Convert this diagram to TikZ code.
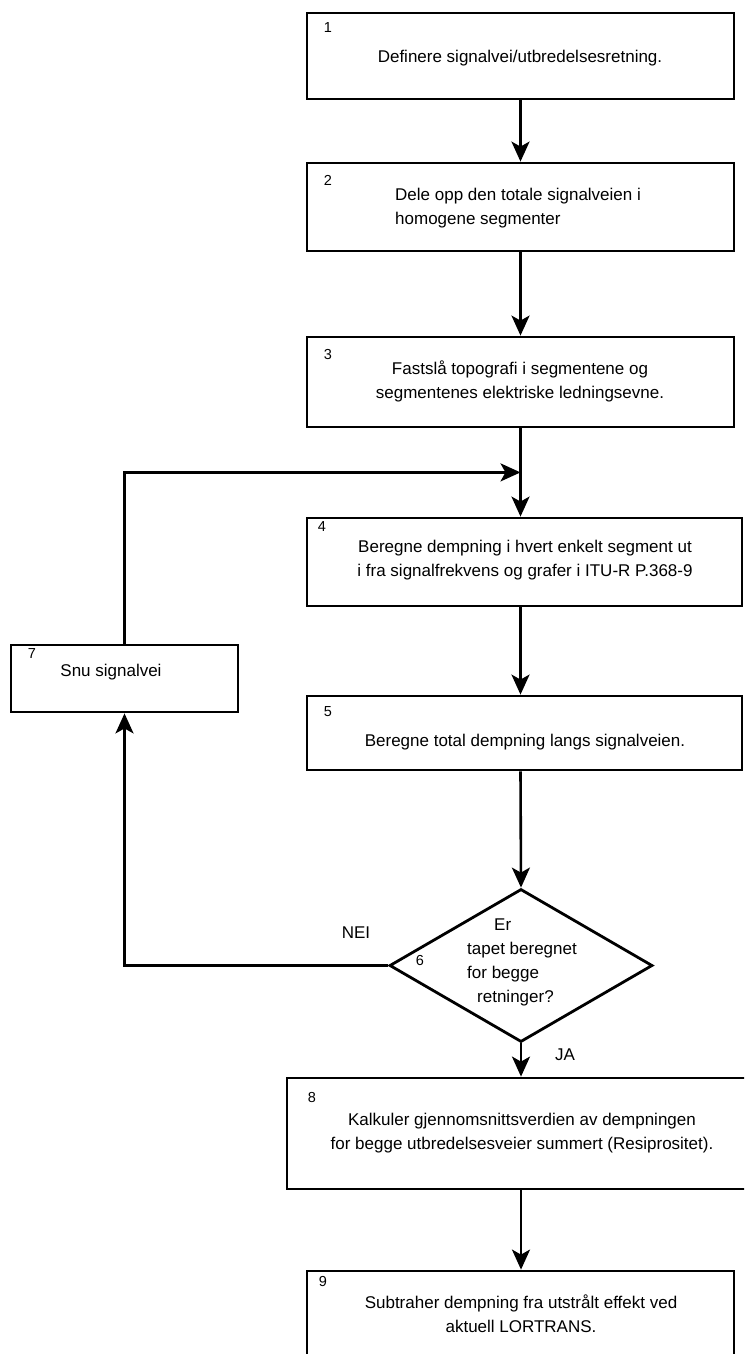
\documentclass[tikz,border=0pt]{standalone}
\usepackage{fontspec}
\setmainfont{Liberation Sans}
\usetikzlibrary{shapes.geometric,arrows.meta,calc}
\begin{document}
\begin{tikzpicture}[x=1pt,y=-1pt,
  stepbox/.style={draw,line width=2.8pt,inner sep=0pt},
  txt/.style={inner sep=0pt,align=center,font=\fontsize{17}{24}\selectfont},
  lbl/.style={inner sep=0pt,font=\fontsize{14.5}{17}\selectfont},
  conn/.style={line width=2.6pt},
  arr/.style={conn,-{Stealth[length=20pt,width=18pt,inset=5pt]}}
]
\useasboundingbox (0,0) rectangle (744,1354);
\fill[white] (0,0) rectangle (744,1354);
\clip (0,0) rectangle (744,1354);

% boxes
\node[stepbox,minimum width=427pt,minimum height=86pt] (b1) at (520.5,56) {};
\node[stepbox,minimum width=427pt,minimum height=88pt] (b2) at (520.5,207) {};
\node[stepbox,minimum width=427pt,minimum height=90pt] (b3) at (520.5,382) {};
\node[stepbox,minimum width=435pt,minimum height=88pt] (b4) at (524.5,562) {};
\node[stepbox,minimum width=435pt,minimum height=74pt] (b5) at (524.5,733) {};
\node[stepbox,minimum width=227pt,minimum height=67pt] (b7) at (124.5,678.5) {};
\node[stepbox,shape=diamond,minimum width=263pt,minimum height=153pt] (d6) at (521,965.5) {};
\node[stepbox,minimum width=473pt,minimum height=111pt] (b8) at (523.5,1133.5) {};
\node[stepbox,minimum width=427pt,minimum height=86pt] (b9) at (520.5,1314) {};

% numbers
\node[lbl] (n1) at (328,28) {1};
\node[lbl] (n2) at (328,180) {2};
\node[lbl] (n3) at (328,355) {3};
\node[lbl] (n4) at (322,527) {4};
\node[lbl] (n5) at (328,712) {5};
\node[lbl] (n6) at (420,960) {6};
\node[lbl] (n7) at (32,654) {7};
\node[lbl] (n8) at (312,1097) {8};
\node[lbl] (n9) at (323,1281) {9};

% texts
\node[txt] (t1) at (520,58) {Definere signalvei/utbredelsesretning.};
\node[txt,align=left,anchor=west] (t2) at (395,208) {Dele opp den totale signalveien i\\homogene segmenter};
\node[txt] (t3) at (520,381) {Fastslå topografi i segmentene og\\segmentenes elektriske ledningsevne.};
\node[txt] (t4) at (525,560) {Beregne dempning i hvert enkelt segment ut\\i fra signalfrekvens og grafer i ITU-R P.368-9};
\node[txt] (t5) at (525,742) {Beregne total dempning langs signalveien.};
\node[txt,align=left,anchor=west] (t6) at (467,962) {\hspace*{27pt}Er\\tapet beregnet\\for begge\\\hspace*{10pt}retninger?};
\node[txt] (t7) at (111,672) {Snu signalvei};
\node[txt] (t8) at (522,1133) {Kalkuler gjennomsnittsverdien av dempningen\\for begge utbredelsesveier summert (Resiprositet).};
\node[txt] (t9) at (521,1314) {Subtraher dempning fra utstrålt effekt ved\\aktuell LORTRANS.};
\node[txt] (nei) at (356,933) {NEI};
\node[txt] (ja) at (565,1055) {JA};

% connectors
\coordinate (j) at ($(b3.south)+(0,44)$);
\coordinate (c1) at (b7.north |- j);
\coordinate (c2) at (b7.south |- d6.west);
\draw[arr] (b1.south) -- (b2.north);
\draw[arr] (b2.south) -- (b3.north);
\draw[arr] (b3.south) -- (b3.south |- b4.north);
\draw[arr] (b3.south |- b4.south) -- (b3.south |- b5.north);
\draw[arr] (b3.south |- b5.south) -- (d6.north);
\draw[arr] (d6.south) -- (d6.south |- b8.north);
\draw[arr] (d6.south |- b8.south) -- (d6.south |- b9.north);
\draw[arr] (d6.west) -- (c2) -- (b7.south);
\draw[arr] (b7.north) -- (c1) -- (j);
\end{tikzpicture}
\end{document}
